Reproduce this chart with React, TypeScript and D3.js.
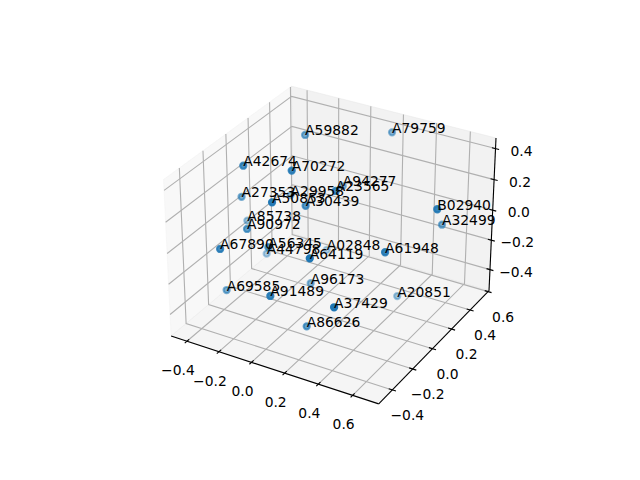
import React, { useEffect, useRef } from 'react';
import * as d3 from 'd3';

const names = ['A59882','A79759','A42674','A70272','A27353','A29958','A50853','A30439','A94277','A23565','A85738','A90972','A67890','A56345','A44798','A02848','A64119','A61948','A96173','A69585','A91489','A37429','A86626','A20851','B02940','A32499'];
const xValues = [-0.163,0.198,-0.279,-0.018,-0.377,-0.246,-0.011,0.020,0.013,0.194,-0.413,-0.245,-0.245,-0.125,-0.310,-0.063,0.255,0.519,0.024,-0.322,0.069,0.422,0.152,0.388,0.694,0.578];
const yValues = [0.226,0.498,-0.165,-0.119,-0.049,0.209,-0.307,-0.053,0.313,-0.043,0.048,-0.194,-0.430,-0.181,0.071,0.274,-0.378,-0.099,-0.017,-0.280,-0.453,-0.419,-0.253,0.256,0.109,0.376];
const zValues = [0.436,0.410,0.417,0.436,0.125,0.030,0.345,0.188,0.108,0.328,-0.099,0.039,0.050,-0.050,-0.303,-0.321,0.118,0.072,-0.341,-0.336,-0.136,-0.112,-0.436,-0.479,0.276,-0.013];

const xTicks = [-0.4, -0.2, 0, 0.2, 0.4, 0.6];
const yTicks = [-0.4, -0.2, 0, 0.2, 0.4, 0.6];
const zTicks = [-0.4, -0.2, 0, 0.2, 0.4];

const xLim = [-0.5, 0.75];
const yLim = [-0.53, 0.61];
const zLim = [-0.545, 0.467];

// same camera as a default mplot3d axes: elev 30, azim -60, dist 10
const boxXY = 1.19048;
const boxZ = 0.89286;
const camU = [0.8660254, 0.5, 0];
const camV = [-0.25, 0.4330127, 0.8660254];
const camW = [0.4330127, -0.75, 0.5];

const toBoxX = d3.scaleLinear().domain(xLim).range([-boxXY / 2, boxXY / 2]);
const toBoxY = d3.scaleLinear().domain(yLim).range([-boxXY / 2, boxXY / 2]);
const toBoxZ = d3.scaleLinear().domain(zLim).range([-boxZ / 2, boxZ / 2]);
const toPixelX = d3.scaleLinear().domain([-0.095, 0.09]).range([143.2, 512.8]);
const toPixelY = d3.scaleLinear().domain([-0.095, 0.09]).range([427.2, 57.6]);

const dot = (a: number[], b: number[]) => a[0] * b[0] + a[1] * b[1] + a[2] * b[2];

function project(x: number, y: number, z: number) {
  const d = [toBoxX(x), toBoxY(y), toBoxZ(z)];
  const depth = dot(camW, d);
  const k = 10 - depth;
  return { px: toPixelX(dot(camU, d) / k), py: toPixelY(dot(camV, d) / k), depth };
}

const fmt = (t: number) => (t < 0 ? '\u2212' : '') + Math.abs(t).toFixed(1);
const line3d = (pts: number[][]) =>
  d3.line()(pts.map(p => { const q = project(p[0], p[1], p[2]); return [q.px, q.py] as [number, number]; }));

export default function App() {
  const ref = useRef<SVGSVGElement>(null);

  useEffect(() => {
    const svg = d3.select(ref.current);
    svg.selectAll('*').remove();
    const [x0, x1] = xLim, [y0, y1] = yLim, [z0, z1] = zLim;

    // back panes
    const panes = [
      { pts: [[x0, y0, z0], [x0, y1, z0], [x0, y1, z1], [x0, y0, z1]], c: 'rgb(242,242,242)' },
      { pts: [[x0, y1, z0], [x1, y1, z0], [x1, y1, z1], [x0, y1, z1]], c: 'rgb(230,230,230)' },
      { pts: [[x0, y0, z0], [x1, y0, z0], [x1, y1, z0], [x0, y1, z0]], c: 'rgb(236,236,236)' },
    ];
    svg.selectAll('.pane').data(panes).enter().append('path')
      .attr('d', d => line3d(d.pts) + 'Z')
      .attr('fill', d => d.c).attr('fill-opacity', 0.5)
      .attr('stroke', d => d.c).attr('stroke-opacity', 0.5).attr('stroke-width', 1);

    // grid
    const grid = [
      ...xTicks.map(t => [[t, y0, z0], [t, y1, z0], [t, y1, z1]]),
      ...yTicks.map(t => [[x1, t, z0], [x0, t, z0], [x0, t, z1]]),
      ...zTicks.map(t => [[x0, y0, t], [x0, y1, t], [x1, y1, t]]),
    ];
    svg.selectAll('.grid').data(grid).enter().append('path')
      .attr('d', d => line3d(d)).attr('fill', 'none')
      .attr('stroke', '#b0b0b0').attr('stroke-width', 1.11);

    // axis lines
    const axes = [
      [[x0, y0, z0], [x1, y0, z0]],
      [[x1, y0, z0], [x1, y1, z0]],
      [[x1, y1, z0], [x1, y1, z1]],
    ];
    svg.selectAll('.axis').data(axes).enter().append('path')
      .attr('d', d => line3d(d)).attr('fill', 'none')
      .attr('stroke', '#000').attr('stroke-width', 1.11);

    // ticks, running along the neighbouring axis direction
    const dx = (x1 - x0) / 12, dy = (y1 - y0) / 12;
    const tickMarks = [
      ...xTicks.map(t => [[t, y0 + 0.2 * dy, z0], [t, y0 - 0.2 * dy, z0]]),
      ...yTicks.map(t => [[x1 - 0.2 * dx, t, z0], [x1 + 0.2 * dx, t, z0]]),
      ...zTicks.map(t => [[x1 - 0.2 * dx, y1, t], [x1 + 0.2 * dx, y1, t]]),
    ];
    svg.selectAll('.tick').data(tickMarks).enter().append('path')
      .attr('d', d => line3d(d)).attr('fill', 'none')
      .attr('stroke', '#000').attr('stroke-width', 1.11);

    // tick labels
    const tickLabels = [
      ...xTicks.map(t => ({ p: project(t, y0, z0), t, ox: -9, oy: 29 })),
      ...yTicks.map(t => ({ p: project(x1, t, z0), t, ox: 15, oy: 25.3 })),
      ...zTicks.map(t => ({ p: project(x1, y1, t), t, ox: 26, oy: 2.3 })),
    ];
    svg.selectAll('.ticklabel').data(tickLabels).enter().append('text')
      .attr('x', d => d.p.px + d.ox).attr('y', d => d.p.py + d.oy)
      .attr('text-anchor', 'middle').attr('dominant-baseline', 'central')
      .text(d => fmt(d.t));

    // scatter, far points first, shaded by depth
    const points = names.map((name, i) => ({ name, ...project(xValues[i], yValues[i], zValues[i]) }));
    const alpha = d3.scaleLinear()
      .domain(d3.extent(points, d => d.depth) as [number, number])
      .range([0.3, 1]);
    const sorted = d3.sort(points, d => d.depth);
    svg.selectAll('.dot').data(sorted).enter().append('circle')
      .attr('cx', d => d.px).attr('cy', d => d.py).attr('r', 3.1)
      .attr('fill', '#1f77b4').attr('fill-opacity', d => alpha(d.depth))
      .attr('stroke', '#1f77b4').attr('stroke-opacity', d => alpha(d.depth))
      .attr('stroke-width', 2.08);

    // labels
    svg.selectAll('.name').data(points).enter().append('text')
      .attr('x', d => d.px).attr('y', d => d.py + 0.5)
      .text(d => d.name);
  }, []);

  return (
    <svg
      ref={ref}
      width={640}
      height={480}
      style={{ position: 'absolute', left: 0, top: 0, fontFamily: 'DejaVu Sans', fontSize: 13.89, background: '#fff' }}
    />
  );
}
